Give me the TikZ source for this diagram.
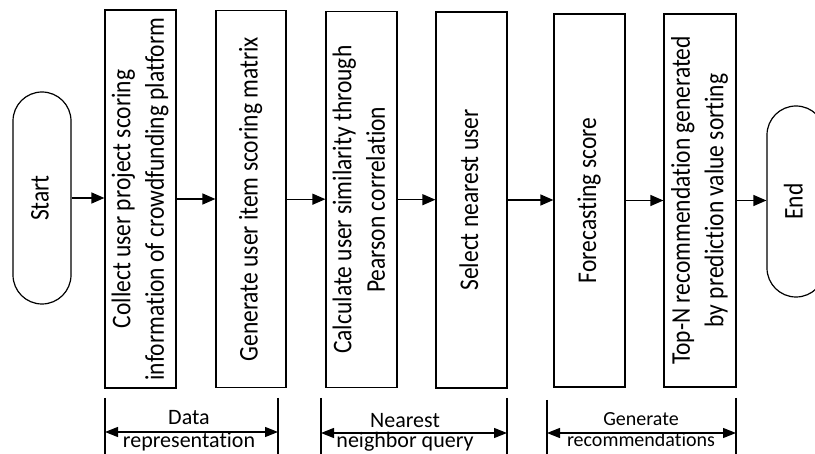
\documentclass[tikz,border=0pt]{standalone}
\usepackage{fontspec}
\setmainfont{Carlito}[Ligatures=NoCommon]
\usetikzlibrary{arrows.meta}
\newcommand\vtext[1]{\rotatebox{90}{\scalebox{1}[1.15]{\fontsize{23.5}{29}\selectfont\begin{tabular}{@{}c@{}}#1\end{tabular}}}}
\begin{document}
\begin{tikzpicture}[x=1pt,y=-1pt,
  proc/.style={draw, line width=1.2pt, inner sep=0pt, align=center},
  term/.style={draw, line width=1.2pt, inner sep=0pt, rounded corners=29pt, minimum width=58pt},
  arr/.style={-{Triangle[length=13pt,width=11pt]}, line width=1.3pt},
  dbl/.style={{Triangle[length=13pt,width=10pt]}-{Triangle[length=13pt,width=10pt]}, line width=1.3pt},
  tick/.style={line width=1.4pt},
  lab/.style={font=\fontsize{22}{26}\selectfont, inner sep=0pt, anchor=base},
  labs/.style={font=\fontsize{20}{24}\selectfont, inner sep=0pt, anchor=base}]
\clip (0,0) rectangle (815,454);
\useasboundingbox (0,0) rectangle (815,454);
\fill[white] (0,0) rectangle (815,454);

\node[term, minimum height=212pt] (st) at (42,198) {\vtext{Start}};
\node[proc, minimum width=71pt, minimum height=378pt] (b1) at (140.5,199) {\vtext{Collect user project scoring\\information of crowdfunding platform}};
\node[proc, minimum width=70pt, minimum height=377pt] (b2) at (251,199.2) {\vtext{Generate user item scoring matrix}};
\node[proc, minimum width=71pt, minimum height=376pt] (b3) at (361.5,199.7) {\vtext{Calculate user similarity through\\Pearson correlation}};
\node[proc, minimum width=71pt, minimum height=376pt] (b4) at (471.5,200) {\vtext{Select nearest user}};
\node[proc, minimum width=71pt, minimum height=373pt] (b5) at (589.5,200.5) {\vtext{Forecasting score}};
\node[proc, minimum width=72pt, minimum height=373pt] (b6) at (700,200.5) {\vtext{Top-N recommendation generated\\by prediction value sorting}};
\node[term, minimum height=191pt] (en) at (796,201.5) {\vtext{End}};

\draw[arr] (st.east) -- (st.east -| b1.west);
\draw[arr] (b1.east) -- (b1.east -| b2.west);
\draw[arr] (b2.east) -- (b2.east -| b3.west);
\draw[arr] (b3.east) -- (b3.east -| b4.west);
\draw[arr] (b4.east) -- (b4.east -| b5.west);
\draw[arr] (b5.east) -- (b5.east -| b6.west);
\draw[arr] (b6.east) -- (b6.east -| en.west);

% brackets
\coordinate (d1t) at (105,398); \coordinate (d1b) at (105,456);
\coordinate (d2t) at (278,398); \coordinate (d2b) at (278,456);
\coordinate (da) at (105,432); \coordinate (db) at (278,432);
\draw[tick] (d1t) -- (d1b); \draw[tick] (d2t) -- (d2b);
\draw[dbl] (da) -- (db);
\node[lab] (dl1) at (189,425) {Data};
\node[lab] (dl2) at (189,448) {representation};

\coordinate (n1t) at (321,398); \coordinate (n1b) at (321,456);
\coordinate (n2t) at (507,398); \coordinate (n2b) at (507,456);
\coordinate (na) at (321,433); \coordinate (nb) at (507,433);
\draw[tick] (n1t) -- (n1b); \draw[tick] (n2t) -- (n2b);
\draw[dbl] (na) -- (nb);
\node[lab] (nl1) at (405,428) {Nearest};
\node[lab] (nl2) at (405,448) {neighbor query};

\coordinate (g1t) at (547,400); \coordinate (g1b) at (547,456);
\coordinate (g2t) at (736,398); \coordinate (g2b) at (736,456);
\coordinate (ga) at (547,433); \coordinate (gb) at (736,433);
\draw[tick] (g1t) -- (g1b); \draw[tick] (g2t) -- (g2b);
\draw[dbl] (ga) -- (gb);
\node[labs] (gl1) at (641,426) {Generate};
\node[labs] (gl2) at (641,447) {recommendations};
\end{tikzpicture}
\end{document}
